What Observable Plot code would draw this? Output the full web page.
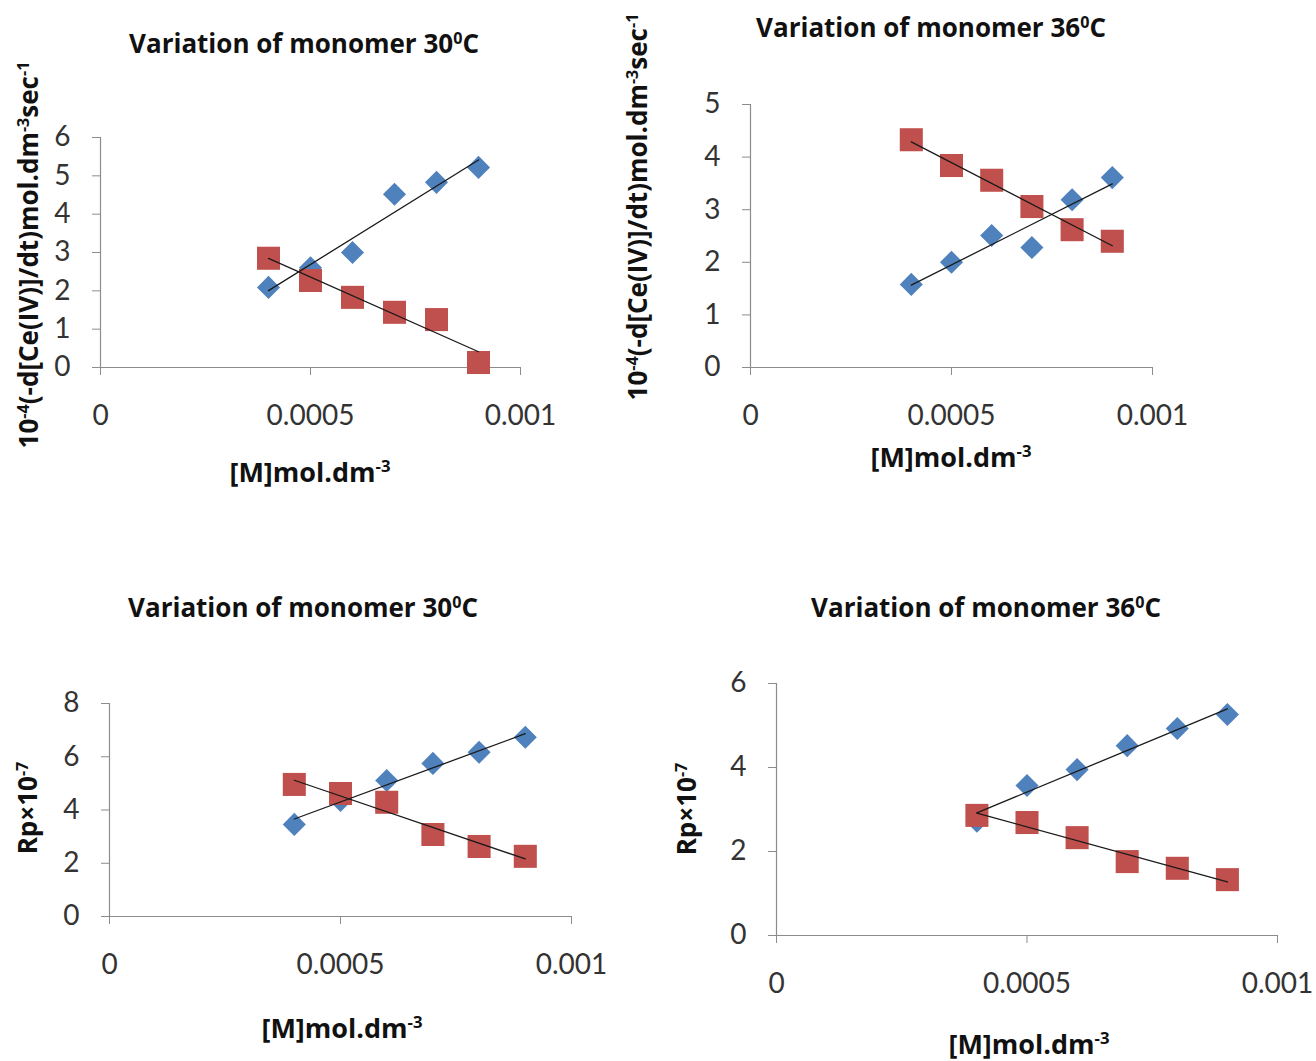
<!DOCTYPE html>
<html>
<head>
<meta charset="utf-8">
<script src="https://cdn.jsdelivr.net/npm/d3@7"></script>
<script src="https://cdn.jsdelivr.net/npm/@observablehq/plot@0.6"></script>
<style>
  html, body { margin: 0; padding: 0; background: #fff; }
  #root { position: relative; width: 1316px; height: 1061px; overflow: hidden; background: #fff; }
  .lbl { position: absolute; white-space: nowrap; font-family: "Open Sans", sans-serif; font-weight: bold; color: #111; transform: translate(-50%, -50%); line-height: 1; }
  .lbl sup { font-size: 0.62em; vertical-align: 0.55em; line-height: 0; }
  .rot { transform: translate(-50%, -50%) rotate(-90deg); }
  .panel { position: absolute; }
  .panel svg { max-width: none !important; display: block; }
</style>
</head>
<body>
<div id="root"></div>
<script>
// ---- data ----
const conc = [0.0004, 0.0005, 0.0006, 0.0007, 0.0008, 0.0009];
const xTicks = [0, 0.0005, 0.001];
const xTickLabels = ["0", "0.0005", "0.001"];

const p1Blue = [2.09, 2.60, 3.00, 4.52, 4.83, 5.22];
const p1Red  = [2.85, 2.27, 1.83, 1.44, 1.25, 0.13];
const p2Blue = [1.58, 2.00, 2.51, 2.28, 3.19, 3.61];
const p2Red  = [4.33, 3.84, 3.56, 3.06, 2.62, 2.40];
const p3Blue = [3.46, 4.36, 5.11, 5.75, 6.17, 6.73];
const p3Red  = [4.96, 4.62, 4.29, 3.08, 2.63, 2.26];
const p4Blue = [2.72, 3.57, 3.95, 4.52, 4.93, 5.26];
const p4Red  = [2.86, 2.69, 2.33, 1.76, 1.60, 1.33];

const p1YTicks = [0, 1, 2, 3, 4, 5, 6];
const p2YTicks = [0, 1, 2, 3, 4, 5];
const p3YTicks = [0, 2, 4, 6, 8];
const p4YTicks = [0, 2, 4, 6];

const title30 = "Variation of monomer 30<sup>0</sup>C";
const title36 = "Variation of monomer 36<sup>0</sup>C";
const yLabelRate = "10<sup>-4</sup>(-d[Ce(IV)]/dt)mol.dm<sup>-3</sup>sec<sup>-1</sup>";
const yLabelRp = "Rp×10<sup>-7</sup>";
const xLabel = "[M]mol.dm<sup>-3</sup>";

// ---- layout ----
const panels = [
  { blue: p1Blue, red: p1Red, yTicks: p1YTicks, x0: 100, x1: 520, yTop: 137, yBottom: 367,
    title: title30, tPos: [304, 43], yl: yLabelRate, ylPos: [28, 255], xlPos: [310, 471] },
  { blue: p2Blue, red: p2Red, yTicks: p2YTicks, x0: 750, x1: 1152, yTop: 104, yBottom: 367,
    title: title36, tPos: [931, 27], yl: yLabelRate, ylPos: [637, 207], xlPos: [951, 456] },
  { blue: p3Blue, red: p3Red, yTicks: p3YTicks, x0: 109, x1: 571, yTop: 703, yBottom: 916,
    title: title30, tPos: [303, 607], yl: yLabelRp, ylPos: [27, 808], xlPos: [342, 1027] },
  { blue: p4Blue, red: p4Red, yTicks: p4YTicks, x0: 776, x1: 1277, yTop: 683, yBottom: 935,
    title: title36, tPos: [986, 607], yl: yLabelRp, ylPos: [686, 809], xlPos: [1029, 1043] }
];

const root = document.getElementById("root");
const tickMap = new Map(xTicks.map((t, i) => [t, xTickLabels[i]]));

function addLabel(html, pos, size, rotate) {
  const d = document.createElement("div");
  d.className = "lbl" + (rotate ? " rot" : "");
  d.innerHTML = html;
  d.style.left = pos[0] + "px";
  d.style.top = pos[1] + "px";
  d.style.fontSize = size + "px";
  root.appendChild(d);
}

for (const p of panels) {
  const mL = 90, mT = 30, mR = 70, mB = 80;
  const blueData = conc.map((x, i) => ({ x, y: p.blue[i] }));
  const redData = conc.map((x, i) => ({ x, y: p.red[i] }));
  const ymax = p.yTicks[p.yTicks.length - 1];
  const W = p.x1 - p.x0 + mL + mR;
  const H = p.yBottom - p.yTop + mT + mB;
  const chart = Plot.plot({
    width: W,
    height: H,
    marginLeft: mL, marginTop: mT, marginRight: mR, marginBottom: mB,
    x: { domain: [0, 0.001] },
    y: { domain: [0, ymax] },
    style: { fontFamily: "Lato, sans-serif", fontSize: "28px", background: "transparent", overflow: "visible", color: "#333", maxWidth: "none" },
    marks: [
      Plot.ruleY([0], { stroke: "#8c8c8c", strokeWidth: 1.2 }),
      Plot.ruleX([0], { stroke: "#8c8c8c", strokeWidth: 1.2 }),
      Plot.axisY({ ticks: p.yTicks, tickSize: 8, tickPadding: 22, stroke: "#8c8c8c", fill: "#333", label: null, tickFormat: d => String(d) }),
      Plot.axisX({ ticks: xTicks, tickSize: 8, tickPadding: 30, stroke: "#8c8c8c", fill: "#333", label: null, tickFormat: d => tickMap.get(d) }),
      Plot.dot(blueData, { x: "x", y: "y", symbol: "diamond2", r: 10.4, fill: "#4F81BD", stroke: "none" }),
      Plot.dot(redData, { x: "x", y: "y", symbol: "square", r: 13, fill: "#C0504D", stroke: "none" }),
      Plot.linearRegressionY(blueData, { x: "x", y: "y", stroke: "#1a1a1a", strokeWidth: 1.3, ci: 0 }),
      Plot.linearRegressionY(redData, { x: "x", y: "y", stroke: "#1a1a1a", strokeWidth: 1.3, ci: 0 })
    ]
  });
  const wrap = document.createElement("div");
  wrap.className = "panel";
  wrap.style.left = (p.x0 - mL) + "px";
  wrap.style.top = (p.yTop - mT) + "px";
  wrap.style.width = W + "px";
  wrap.style.height = H + "px";
  wrap.appendChild(chart);
  root.appendChild(wrap);

  addLabel(p.title, p.tPos, 26, false);
  addLabel(p.yl, p.ylPos, 26, true);
  addLabel(xLabel, p.xlPos, 27, false);
}
</script>
</body>
</html>
